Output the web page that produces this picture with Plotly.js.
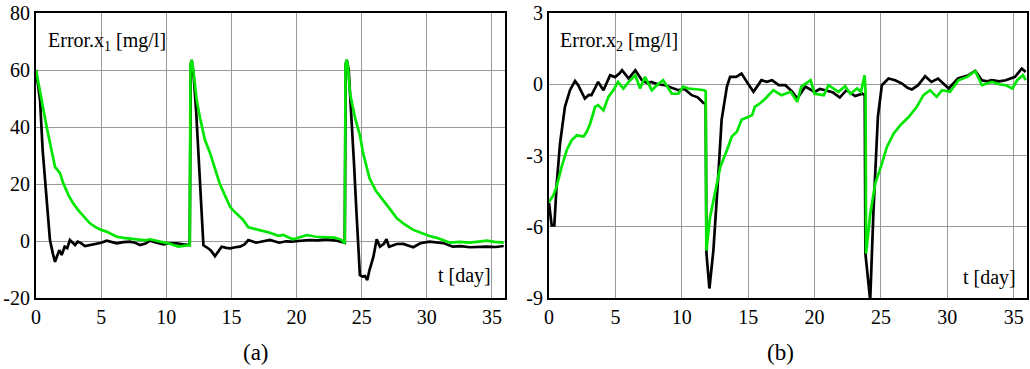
<!DOCTYPE html>
<html>
<head>
<meta charset="utf-8">
<script src="https://cdn.plot.ly/plotly-3.0.1.min.js"></script>
<style>html,body{margin:0;padding:0;background:#fff;}#chart{width:1030px;height:369px;}</style>
</head>
<body>
<div id="chart"></div>
<script>
// ---- Panel (a): Error.x1 ----
const tBlackX1 = [0, 0.31, 0.51, 0.82, 1.07, 1.3, 1.46, 1.6, 1.79, 1.97, 2.2, 2.4, 2.6, 2.8, 3.0, 3.2, 3.4, 3.76, 4.2, 4.66, 5.0, 5.43, 5.8, 6.2, 6.7, 7.2, 7.6, 8.0, 8.4, 8.75, 9.2, 9.77, 10.3, 10.8, 11.3, 11.8,
  11.88, 11.95, 12.1, 12.3, 12.5, 12.7, 12.85, 13.1, 13.4, 13.74, 14.0, 14.25, 14.6, 14.9, 15.3, 15.66, 16.0, 16.3, 16.9, 17.4, 17.96, 18.67, 19.2, 19.6, 20.3, 21.0, 21.6, 22.3, 23.1, 23.7,
  23.77, 23.85, 24.0, 24.2, 24.4, 24.6, 24.75, 24.86, 25.05, 25.25, 25.43, 25.6, 25.9, 26.15, 26.4, 26.7, 26.9, 27.1, 27.7, 28.2, 28.96, 29.5, 30.2, 30.8, 31.3, 32.0, 32.6, 33.3, 34.0, 34.6, 35.3, 35.9];
const vBlackX1 = [60, 49.5, 32, 14.4, 0.35, -4.5, -7.3, -5.5, -3.2, -4.9, -2, -2.5, 0.35, -0.5, -1.4, -0.2, -0.6, -1.75, -1.4, -1.05, -0.6, 0.1, -0.3, -0.8, -0.4, -0.2, -0.6, -1.4, -0.9, 0.1, -0.5, -1.2, -0.8, -0.8, -1.2, -1.4,
  62, 63.5, 58, 45, 28, 10, -1.5, -2.2, -3.2, -5.3, -3.5, -2, -2.4, -2.6, -2.2, -2, -1.2, 0.35, -0.6, -0.2, 0.35, -0.6, -0.1, -0.2, 0.2, 0.35, 0.2, 0.6, 0.1, -0.6,
  62, 63.5, 60, 45, 28, 10, -5, -11.9, -12.5, -12.3, -13.7, -10.2, -5.5, 0.6, -2, -1, 0.6, -2, -1.05, -1, -2.2, -0.8, -0.2, -0.5, -0.8, -2, -1.8, -2.2, -2.0, -2, -2.1, -1.75];

const tGreenX1 = [0, 0.25, 0.5, 0.82, 1.2, 1.46, 1.84, 2.1, 2.5, 2.86, 3.3, 3.7, 4.14, 4.6, 5.0, 5.4, 5.8, 6.2, 6.7, 7.2, 7.6, 8.0, 8.4, 8.75, 9.2, 9.77, 10.3, 10.9, 11.3, 11.8,
  11.86, 11.95, 12.05, 12.33, 12.6, 12.97, 13.35, 13.87, 14.1, 14.5, 14.9, 15.1, 15.5, 15.9, 16.3, 16.8, 17.4, 17.96, 18.6, 19.0, 19.4, 19.75, 20.3, 20.8, 21.5, 22.3, 22.9, 23.4, 23.7,
  23.76, 23.85, 23.95, 24.1, 24.5, 24.87, 25.1, 25.6, 26.1, 26.65, 27.2, 27.7, 28.3, 28.96, 29.6, 30.2, 30.7, 31.26, 31.8, 32.5, 33.3, 34.0, 34.6, 35.2, 35.9];
const vGreenX1 = [60, 54, 47, 40, 31.7, 26, 23.8, 20.2, 16, 13.2, 10.5, 8.3, 6.2, 4.8, 3.9, 3.3, 2.3, 1.5, 1.1, 0.9, 0.7, 0.6, 0.2, 0.6, 0.1, -0.6, -1.0, -2, -1.8, -1.4,
  62, 63.5, 61, 49.5, 43, 35.4, 31, 23.7, 20.2, 16, 12, 10.9, 9, 7.4, 4.8, 4.2, 3.5, 2.9, 1.8, 2.1, 1.2, 0.6, 1.4, 2.1, 1.5, 1.3, 1.2, 0.5, -0.8,
  62, 63.7, 61, 51.8, 43, 37, 31, 22, 17.5, 14.4, 11, 8, 5.8, 3.9, 2.8, 1.75, 1.2, 0.35, -0.6, -0.3, -0.6, -0.2, 0.1, -0.3, -0.6];

// ---- Panel (b): Error.x2 ----
const tBlackX2 = [0, 0.2, 0.4, 0.58, 0.83, 1.2, 1.58, 1.96, 2.2, 2.45, 2.7, 3.0, 3.2, 3.7, 4.1, 4.6, 4.97, 5.3, 5.5, 6.0, 6.5, 7.0, 7.4, 7.7, 8.2, 8.74, 9.2, 9.74, 10.2, 10.75, 11.2, 11.63, 11.8,
  11.86, 12.08, 12.38, 12.76, 13.0, 13.4, 13.64, 14.1, 14.5, 14.9, 15.4, 16.0, 16.4, 16.8, 17.3, 17.8, 18.3, 18.7, 19.3, 20.0, 20.4, 20.8, 21.4, 21.9, 22.4, 23.06, 23.6, 23.78,
  23.83, 24.19, 24.44, 24.77, 25.07, 25.57, 26.07, 26.58, 27.0, 27.33, 27.8, 28.33, 28.8, 29.3, 29.7, 30.1, 30.8, 31.6, 32.1, 32.6, 33.0, 33.36, 33.9, 34.4, 35.1, 35.6, 35.9];
const vBlackX2 = [-5.0, -5.94, -5.94, -4.2, -2.5, -0.95, -0.25, 0.14, -0.04, -0.3, -0.6, -0.45, -0.46, 0.1, -0.25, 0.38, 0.3, 0.45, 0.59, 0.24, 0.59, 0.17, 0.05, 0.1, 0.0, -0.04, -0.15, -0.25, -0.2, -0.46, -0.55, -0.79, -0.8,
  -7.13, -8.6, -7, -3.76, -1.5, -0.1, 0.31, 0.31, 0.45, 0.1, -0.32, 0.17, 0.1, 0.17, -0.04, -0.04, -0.3, -0.6, -0.1, -0.32, -0.2, -0.25, -0.35, -0.56, -0.25, -0.5, -0.4, -0.45,
  -7.13, -9.1, -5.3, -1.37, -0.04, 0.24, 0.17, 0.03, -0.15, -0.22, -0.04, 0.34, 0.1, 0.24, 0.05, -0.18, 0.24, 0.38, 0.56, 0.17, 0.12, 0.17, 0.12, 0.17, 0.31, 0.66, 0.52];

const tGreenX2 = [0, 0.33, 0.58, 0.95, 1.33, 1.7, 2.1, 2.6, 2.84, 3.1, 3.47, 3.7, 4.1, 4.47, 4.85, 5.2, 5.6, 6.0, 6.5, 6.86, 7.23, 7.74, 8.2, 8.6, 9.25, 9.74, 10.1, 10.5, 11.25, 11.7, 11.8,
  11.85, 12.13, 12.5, 12.9, 13.4, 13.77, 14.15, 14.5, 14.9, 15.3, 15.5, 15.9, 16.3, 16.9, 17.5, 17.8, 18.2, 18.7, 19.0, 19.7, 20.0, 20.7, 21.05, 21.8, 22.3, 22.7, 23.2, 23.5, 23.77, 23.84,
  23.88, 24.2, 24.57, 25.07, 25.45, 25.95, 26.45, 27.1, 27.7, 28.2, 28.7, 29.2, 29.6, 30.2, 30.85, 31.5, 32.1, 32.6, 33.36, 33.9, 34.4, 34.9, 35.26, 35.7, 35.9];
const vGreenX2 = [-4.96, -4.67, -4.3, -3.48, -2.78, -2.36, -2.15, -2.2, -2.0, -1.66, -0.95, -0.88, -1.1, -0.53, -0.25, 0.1, -0.18, 0.1, 0.38, -0.18, 0.31, -0.25, 0.0, 0.17, -0.4, -0.4, -0.1, -0.18, -0.22, -0.25, -0.3,
  -7.0, -5.6, -4.6, -3.48, -2.78, -2.2, -2.0, -1.5, -1.4, -1.3, -0.95, -0.8, -0.6, -0.25, -0.46, -0.4, -0.32, -0.74, -0.1, 0.17, -0.4, -0.46, -0.04, -0.32, -0.08, -0.4, -0.18, -0.32, 0.38, -0.3,
  -7.13, -5.44, -4.18, -3.34, -2.64, -2.08, -1.73, -1.37, -0.95, -0.46, -0.25, -0.53, -0.25, -0.32, 0.17, 0.31, 0.56, -0.04, 0.1, 0.0, -0.04, -0.18, 0.17, 0.38, 0.17];

const xTicks = [0, 5, 10, 15, 20, 25, 30, 35];
const xTickText = ['0', '5', '10', '15', '20', '25', '30', '35'];
const yTicksA = [-20, 0, 20, 40, 60, 80];
const yTickTextA = ['-20', '0', '20', '40', '60', '80'];
const yTicksB = [-9, -6, -3, 0, 3];
const yTickTextB = ['-9', '-6', '-3', '0', '3'];

const FONT = 'Liberation Serif';
const BLACK = '#000000';
const GREEN = '#00e600';

const traces = [
  {x: tBlackX1, y: vBlackX1, xaxis: 'x', yaxis: 'y', mode: 'lines', line: {color: BLACK, width: 2.7}},
  {x: tGreenX1, y: vGreenX1, xaxis: 'x', yaxis: 'y', mode: 'lines', line: {color: GREEN, width: 2.7}},
  {x: tBlackX2, y: vBlackX2, xaxis: 'x2', yaxis: 'y2', mode: 'lines', line: {color: BLACK, width: 2.7}},
  {x: tGreenX2, y: vGreenX2, xaxis: 'x2', yaxis: 'y2', mode: 'lines', line: {color: GREEN, width: 2.7}}
];

const W = 1030, H = 369;
const yDom = [1 - 298 / H, 1 - 13 / H];
function xAx(dom, anchor) {
  return {domain: dom, anchor: anchor, range: [0, 36], tickmode: 'array', tickvals: xTicks, ticktext: xTickText, showline: true, linecolor: '#000', linewidth: 2, mirror: true,
    showgrid: true, gridcolor: '#999', gridwidth: 1, zeroline: false, tickfont: {family: FONT, size: 20, color: '#000'}, fixedrange: true};
}
function yAx(range, vals, text, anchor) {
  return {domain: yDom, anchor: anchor, range: range, tickmode: 'array', tickvals: vals, ticktext: text, showline: true, linecolor: '#000', linewidth: 2, mirror: true,
    showgrid: true, gridcolor: '#999', gridwidth: 1, zeroline: false, tickfont: {family: FONT, size: 20, color: '#000'}, fixedrange: true};
}

const ann = (x, y, text, xa, size) => ({xref: 'paper', yref: 'paper', x: x, y: y, text: text, showarrow: false, xanchor: xa, yanchor: 'middle', font: {family: FONT, size: size, color: '#000'}});

const layout = {
  width: W, height: H, margin: {l: 0, r: 0, t: 0, b: 0}, paper_bgcolor: '#fff', plot_bgcolor: '#fff', showlegend: false,
  font: {family: FONT, color: '#000'},
  xaxis: xAx([36 / W, 505 / W], 'y'),
  yaxis: yAx([-20, 80], yTicksA, yTickTextA, 'x'),
  xaxis2: xAx([549 / W, 1027 / W], 'y2'),
  yaxis2: yAx([-9, 3], yTicksB, yTickTextB, 'x2'),
  annotations: [
    ann(46 / W, 1 - 41 / H, 'Error.x<sub>1</sub> [mg/l]', 'left', 20),
    ann(558 / W, 1 - 41 / H, 'Error.x<sub>2</sub> [mg/l]', 'left', 20),
    ann(493 / W, 1 - 275 / H, 't [day]', 'right', 20),
    ann(1018 / W, 1 - 277 / H, 't [day]', 'right', 20),
    ann(256 / W, 1 - 352 / H, '(a)', 'center', 23),
    ann(780 / W, 1 - 352 / H, '(b)', 'center', 23)
  ]
};

Plotly.newPlot('chart', traces, layout, {displayModeBar: false, staticPlot: true});
</script>
</body>
</html>
